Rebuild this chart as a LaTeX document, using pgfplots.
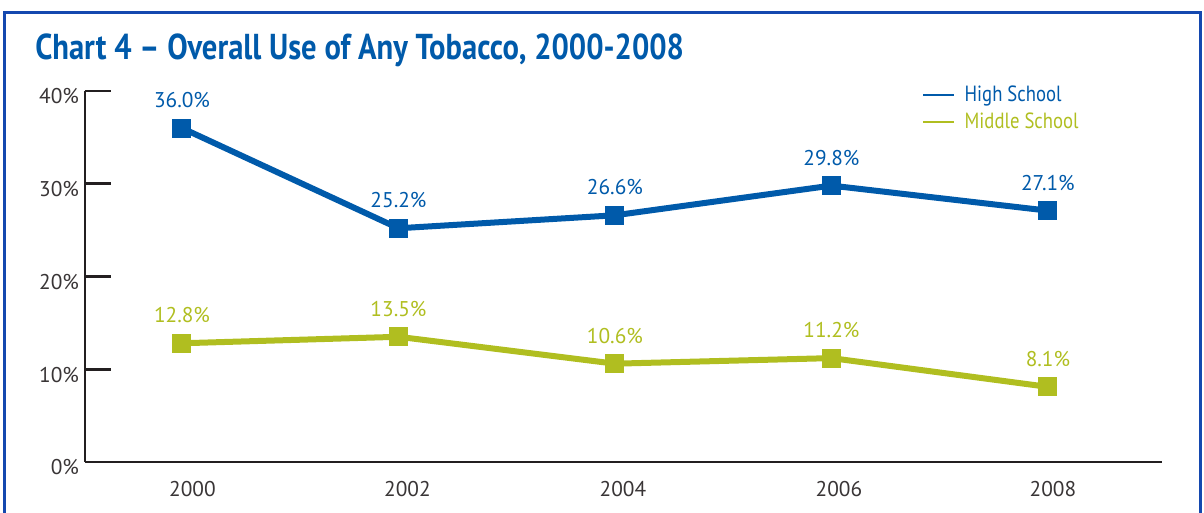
\documentclass[border=0pt]{standalone}
\usepackage{pgfplots}
\pgfplotsset{compat=1.18}
\usepackage{fontspec}
\setmainfont{PT Sans}
\definecolor{hsblue}{RGB}{0,90,170}
\definecolor{msgreen}{RGB}{176,190,32}
\definecolor{frameblue}{RGB}{20,72,175}
\definecolor{axgray}{RGB}{35,31,32}
\begin{document}
\begin{tikzpicture}
\useasboundingbox (-63.75pt,-38.25pt) rectangle (839.25pt,346.5pt);
\clip (-63.75pt,-38.25pt) rectangle (839.25pt,346.5pt);
\draw[frameblue, line width=2.25pt] (-60pt,-45pt) -- (-60pt,336.75pt) -- (836.25pt,336.75pt) -- (836.25pt,-45pt);
\node[anchor=base west, inner sep=0, text=hsblue, font=\fontsize{27}{30}\selectfont\bfseries] at (-37.5pt,301.5pt) {\scalebox{0.85}[1]{Chart 4 – Overall Use of Any Tobacco, 2000-2008}};
\begin{axis}[
  at={(0pt,0pt)}, anchor=south west,
  scale only axis, width=807.75pt, height=278.25pt,
  xmin=-0.448, xmax=4.527, ymin=0, ymax=40,
  axis x line*=bottom, axis y line*=left,
  axis line style={axgray, line width=2pt},
  xtick={0.0485,1.0416,2.0370,3.0346,4.0231}, xticklabels={2000,2002,2004,2006,2008},
  ytick={0,10,20,30,40}, yticklabels={0\%,10\%,20\%,30\%,40\%},
  x tick style={draw=none},
  y tick style={axgray, line width=2pt},
  major tick length=19.5pt,
  extra x ticks={-0.448,0.545,1.538,2.536,3.533,4.527}, extra x tick labels={},
  extra x tick style={major tick length=6pt, tick style={draw=axgray, line width=1.8pt}},
  tick align=inside,
  every tick label/.append style={font=\fontsize{16}{18}\selectfont, text=axgray!90},
  x tick label style={yshift=-11pt},
  y tick label style={xshift=-1pt, yshift=-4pt},
  /pgf/number format/assume math mode=true,
  nodes near coords={\pgfmathprintnumber[fixed,fixed zerofill,precision=1,assume math mode=true]{\pgfplotspointmeta}\%},
  every node near coord/.append style={anchor=center, yshift=21pt, font=\fontsize{16}{18}\selectfont},
  clip=false,
  legend style={draw=none, fill=none, at={(0.7772,1.022)}, anchor=north west, font=\fontsize{16.5}{18}\selectfont, row sep=3pt, inner sep=0pt, nodes={inner sep=2pt}},
  legend cell align=left,
  legend image code/.code={\draw[#1, line width=1.5pt, mark=none] (0pt,0pt) -- (23.25pt,0pt);},
]
\addplot[hsblue, line width=4.5pt, mark=square*, mark size=6.75pt, mark options={line width=0pt, solid}, every node near coord/.append style={text=hsblue}]
  coordinates {(0,36.0) (1,25.2) (2,26.6) (3,29.8) (4,27.1)};
\addlegendentry{\hspace*{5pt}\textcolor{hsblue}{\scalebox{0.85}[1]{High School}}}
\addplot[msgreen, line width=4.5pt, mark=square*, mark size=6.75pt, mark options={line width=0pt, solid}, every node near coord/.append style={text=msgreen}]
  coordinates {(0,12.8) (1,13.5) (2,10.6) (3,11.2) (4,8.1)};
\addlegendentry{\hspace*{5pt}\textcolor{msgreen}{\scalebox{0.85}[1]{Middle School}}}
\end{axis}
\end{tikzpicture}
\end{document}
